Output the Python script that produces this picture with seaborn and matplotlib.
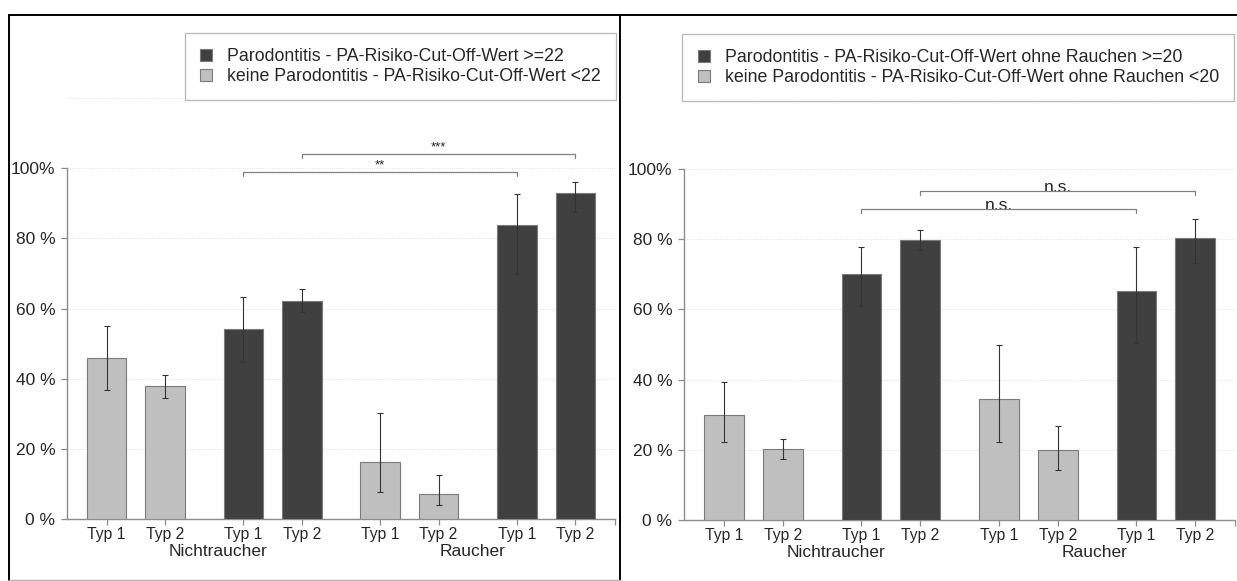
import matplotlib
matplotlib.use("Agg")
import matplotlib.pyplot as plt
from matplotlib.lines import Line2D
from matplotlib.transforms import blended_transform_factory
import numpy as np
import pandas as pd
import seaborn as sns

# ---- data -------------------------------------------------------------
smoking = ["Nichtraucher"] * 4 + ["Raucher"] * 4
diabetes_type = ["Typ 1", "Typ 2"] * 4
perio_flag = [0, 0, 1, 1, 0, 0, 1, 1]  # 1 = Parodontitis

# left chart: cut-off 22
share_22 = [45.8, 37.8, 54.2, 62.2, 16.3, 7.2, 83.7, 93.0]
ci_low_22 = [36.8, 34.5, 44.7, 58.9, 7.7, 3.9, 69.9, 87.5]
ci_high_22 = [55.1, 41.0, 63.2, 65.6, 30.3, 12.5, 92.5, 96.1]
labels_22 = ["Parodontitis - PA-Risiko-Cut-Off-Wert >=22",
             "keine Parodontitis - PA-Risiko-Cut-Off-Wert <22"]
sig_22 = [(2, 6, 98.9, "**"), (3, 7, 104.0, "***")]

# right chart: cut-off 20 without smoking
share_20 = [29.9, 20.2, 70.1, 79.9, 34.6, 19.9, 65.4, 80.3]
ci_low_20 = [22.1, 17.5, 60.9, 77.1, 22.1, 14.2, 50.4, 73.2]
ci_high_20 = [39.2, 23.0, 77.9, 82.6, 49.8, 26.8, 77.9, 85.8]
labels_20 = ["Parodontitis - PA-Risiko-Cut-Off-Wert ohne Rauchen >=20",
             "keine Parodontitis - PA-Risiko-Cut-Off-Wert ohne Rauchen <20"]
sig_20 = [(2, 6, 88.6, "n.s."), (3, 7, 93.7, "n.s.")]

y_ticks = [0, 20, 40, 60, 80, 100]
y_ticklabels = ["0 %", "20 %", "40 %", "60 %", "80 %", "100%"]

# ---- style ------------------------------------------------------------
sns.set_style("white")
plt.rcParams["font.family"] = ["Liberation Sans", "DejaVu Sans"]

DARK = "#404040"
LIGHT = "#bfbfbf"
TEXT = "#262626"
AXIS = "#8c8c8c"

# bar slots: pairs of bars with a wider gap between pairs
slot = np.arange(8)
xpos = (slot // 2) * 2.34 + (slot % 2)
BAR_W = 0.676
XLIM = (-0.678, 8.70)


def draw_panel(ax, share, lo, hi, labels, sig, sig_size, group_x):
    status = [labels[0] if f else labels[1] for f in perio_flag]
    df = pd.DataFrame({"x": xpos, "share": share, "status": status,
                       "smoking": smoking, "typ": diabetes_type})
    sns.barplot(data=df, x="x", y="share", hue="status",
                hue_order=labels, palette=[DARK, LIGHT],
                native_scale=True, dodge=False, width=BAR_W,
                errorbar=None, edgecolor="#7a7a7a", linewidth=0.8,
                legend=True, ax=ax, zorder=3)

    share_a = np.asarray(share)
    yerr = np.vstack([share_a - np.asarray(lo), np.asarray(hi) - share_a])
    ax.errorbar(df["x"], share_a, yerr=yerr, fmt="none", ecolor="#333333",
                elinewidth=0.8, capsize=2.5, capthick=0.8, zorder=4)

    # significance brackets
    for i, j, yb, txt in sig:
        x0, x1 = xpos[i], xpos[j]
        ax.plot([x0, x0, x1, x1], [yb - 1.0, yb, yb, yb - 1.0],
                color="#808080", lw=0.9, zorder=5, clip_on=False)
        if txt.startswith("*"):
            ax.text((x0 + x1) / 2, yb + 0.3, txt, ha="center", va="bottom",
                    fontsize=sig_size, color=TEXT)
        else:
            ax.text((x0 + x1) / 2, yb - 0.3, txt, ha="center",
                    va="baseline", fontsize=sig_size, color=TEXT)

    ax.set_xlim(*XLIM)
    ax.set_ylim(0, 120)
    ax.set_yticks(y_ticks, y_ticklabels)
    ax.set_xticks(xpos, diabetes_type)
    ax.set_xticks([XLIM[1]], minor=True)
    ax.set_xlabel("")
    ax.set_ylabel("")

    for yv in [20, 40, 60, 80, 100, 120]:
        ax.axhline(yv, color="#e6e6e6", lw=0.8, ls=(0, (1, 1)), zorder=0)

    for s in ["top", "right"]:
        ax.spines[s].set_visible(False)
    ax.spines["left"].set_bounds(0, 100)
    ax.spines["left"].set_color(AXIS)
    ax.spines["bottom"].set_color(AXIS)
    ax.spines["left"].set_linewidth(1.0)
    ax.spines["bottom"].set_linewidth(1.0)
    ax.tick_params(axis="y", which="major", length=4, width=0.9,
                   color=AXIS, labelsize=12.5, labelcolor=TEXT, pad=4.5,
                   left=True)
    ax.tick_params(axis="x", which="both", length=4, width=0.9,
                   color=AXIS, labelsize=11.3, labelcolor=TEXT, pad=2,
                   bottom=True)

    tr = blended_transform_factory(ax.transData, ax.transAxes)
    for gx, name in zip(group_x, ["Nichtraucher", "Raucher"]):
        ax.text(gx, -0.078, name, transform=tr, ha="center", va="center",
                fontsize=12.5, color=TEXT)

    handles, lbls = ax.get_legend_handles_labels()
    return handles, lbls


fig = plt.figure(figsize=(12.37, 5.81), dpi=100)
ax1 = fig.add_axes([0.0542, 0.1067, 0.443, 0.7246])
ax2 = fig.add_axes([0.553, 0.1050, 0.4455, 0.7246])

h1, l1 = draw_panel(ax1, share_22, ci_low_22, ci_high_22, labels_22, sig_22,
                    9.5, [1.91, 6.27])
h2, l2 = draw_panel(ax2, share_20, ci_low_20, ci_high_20, labels_20, sig_20,
                    12.5, [1.91, 6.30])

for ax, h, l, anchor in [(ax1, h1, l1, (0.215, 1.154)),
                         (ax2, h2, l2, (-0.003, 1.154))]:
    leg = ax.legend(h, l, loc="upper left", bbox_to_anchor=anchor,
                    borderaxespad=0, frameon=True, fancybox=False,
                    fontsize=12.8, handlelength=0.68, handleheight=0.68,
                    handletextpad=0.85, labelspacing=0.15, borderpad=0.85)
    leg.get_frame().set_edgecolor("#a6a6a6")
    leg.get_frame().set_linewidth(0.9)
    for t in leg.get_texts():
        t.set_color(TEXT)

# outer frame lines of the two panels
W, H = 1237, 581
def fx(px):
    return px / W
def fy(py):
    return 1 - py / H

frame = [([9, 1237], [15, 15], "black", 1.4),
         ([9, 9], [15, 580], "black", 1.4),
         ([620, 620], [15, 581], "black", 1.4),
         ([9, 620], [580, 580], "#b0b0b0", 1.0)]
for xs, ys, c, lw in frame:
    fig.add_artist(Line2D([fx(v) for v in xs], [fy(v) for v in ys],
                          transform=fig.transFigure, color=c, lw=lw))

fig.savefig("out.png", dpi=100, facecolor="white")
